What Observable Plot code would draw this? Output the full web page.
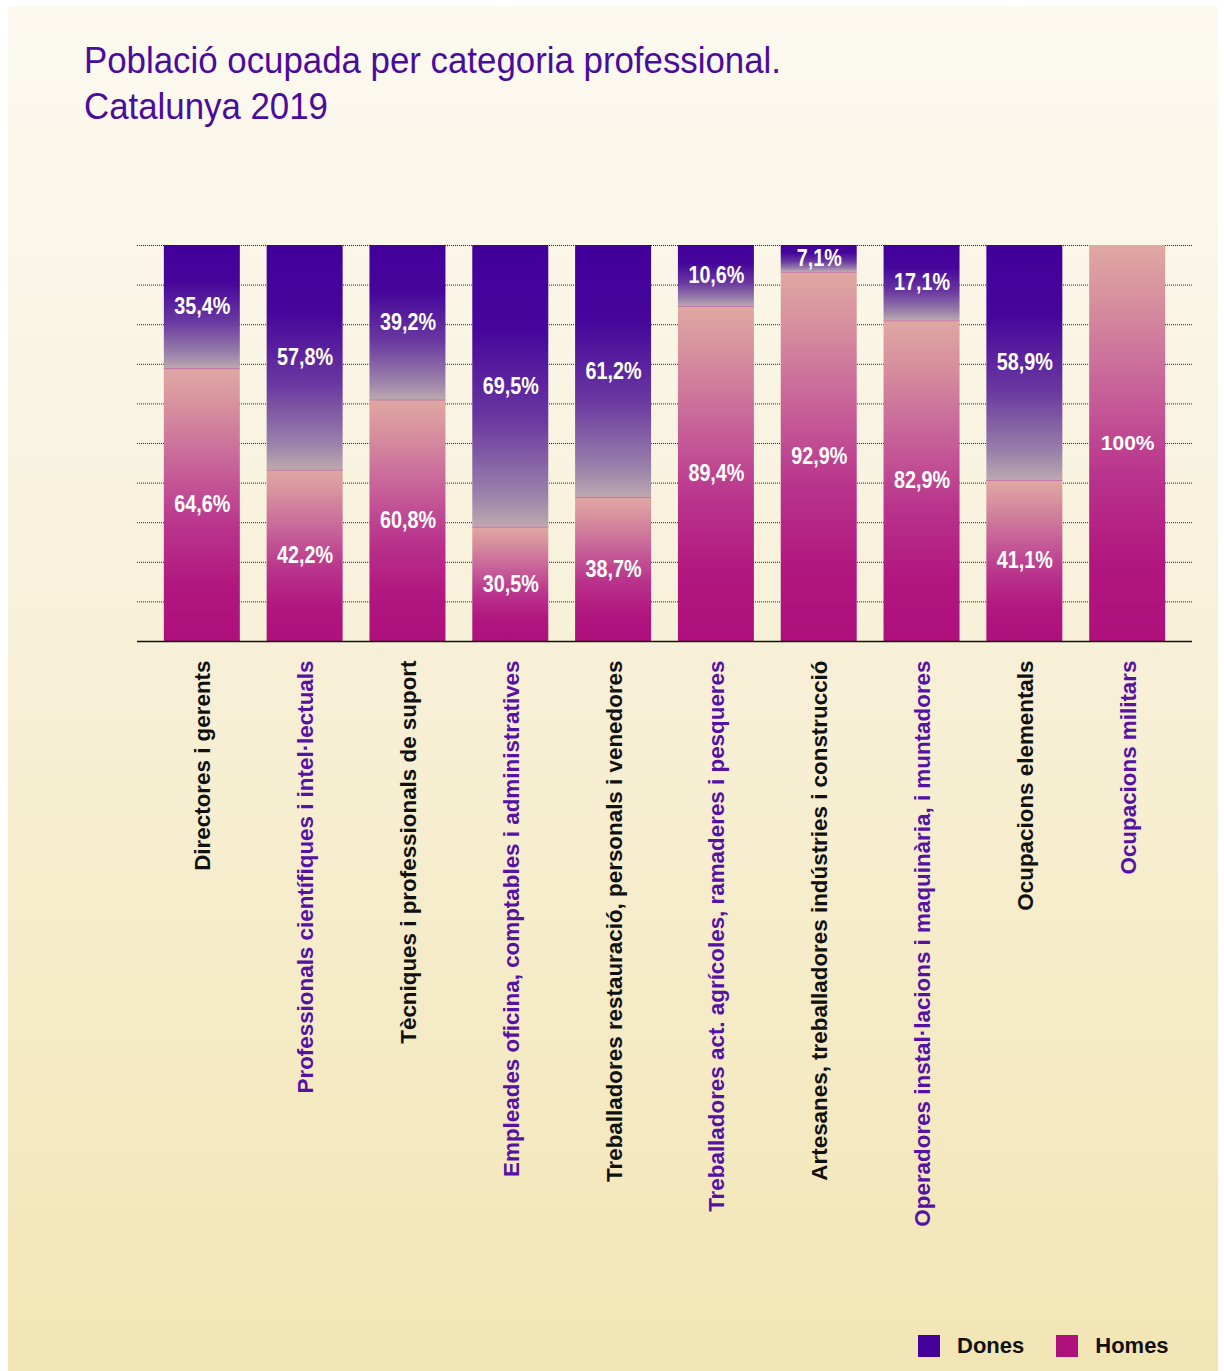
<!DOCTYPE html>
<html>
<head>
<meta charset="utf-8">
<script src="https://cdn.jsdelivr.net/npm/d3@7"></script>
<script src="https://cdn.jsdelivr.net/npm/@observablehq/plot@0.6"></script>
<style>
  html, body { margin: 0; padding: 0; background: #ffffff; }
  body { width: 1224px; height: 1371px; position: relative; overflow: hidden; }
  #panel { position: absolute; left: 8px; top: 6px; width: 1210px; height: 1365px;
    background: linear-gradient(to bottom, #fcf9f0 0%, #f8f2dd 40%, #f2e5b4 100%); }
  #title { position: absolute; left: 84px; top: 38px; margin: 0;
    font-family: "Liberation Sans", Arial, Helvetica, sans-serif;
    font-weight: normal; font-size: 36px; line-height: 46px; color: #4a0c9c; }
  #title span { display: block; white-space: nowrap; transform-origin: 0 50%; width: max-content; }
  #chart { position: absolute; left: 0; top: 200px; }
  #chart svg { background: transparent; overflow: visible; }
  #legend { position: absolute; top: 1333px; left: 918px; display: flex; align-items: center;
    font-family: "Liberation Sans", Arial, Helvetica, sans-serif; font-weight: bold; font-size: 22px; color: #111; }
  #legend .sw { width: 22px; height: 22px; display: inline-block; }
  #legend .lab { margin-left: 17px; margin-right: 32px; }
</style>
</head>
<body>
<div id="panel"></div>
<h1 id="title"><span id="t1">Població ocupada per categoria professional.</span><span id="t2">Catalunya 2019</span></h1>
<div id="chart"></div>
<div id="legend">
  <span class="sw" style="background:#43009a"></span><span class="lab">Dones</span>
  <span class="sw" style="background:#b0107c"></span><span class="lab">Homes</span>
</div>
<script>
const categories = [
  "Directores i gerents",
  "Professionals científiques i intel·lectuals",
  "Tècniques i professionals de suport",
  "Empleades oficina, comptables i administratives",
  "Treballadores restauració, personals i venedores",
  "Treballadores act. agrícoles, ramaderes i pesqueres",
  "Artesanes, treballadores indústries i construcció",
  "Operadores instal·lacions i maquinària, i muntadores",
  "Ocupacions elementals",
  "Ocupacions militars"
];
// percentages printed on the bars
const donesPct = [35.4, 57.8, 39.2, 69.5, 61.2, 10.6, 7.1, 17.1, 58.9, 0];
const homesPct = [64.6, 42.2, 60.8, 30.5, 38.7, 89.4, 92.9, 82.9, 41.1, 100];
// height of the Homes segment as drawn in the picture (% of the bar)
const homesBarHeight = [68.9, 43.3, 61.0, 28.9, 36.4, 84.6, 93.3, 81.0, 40.7, 100];
const gridTicks = [10, 20, 30, 40, 50, 60, 70, 80, 90, 100];

const fmt = v => (Number.isInteger(v) ? String(v) : v.toFixed(1).replace(".", ",")) + "%";

const rows = categories.map((c, i) => ({cat: c, i, dones: donesPct[i], homes: homesPct[i], h: homesBarHeight[i]}));
const donesRows = rows.filter(d => d.dones > 0);
const labels = [];
rows.forEach(d => {
  if (d.dones > 0) labels.push({cat: d.cat, y: (d.h + 100) / 2, t: fmt(d.dones), narrow: true});
  labels.push({cat: d.cat, y: d.h / 2, t: fmt(d.homes), narrow: d.homes !== 100});
});

const defs = () => {
  const s = d3.create("svg:defs");
  const g1 = s.append("linearGradient").attr("id", "gDones").attr("x1", 0).attr("y1", 0).attr("x2", 0).attr("y2", 1);
  [[0, "#42009a"], [0.3, "#46069b"], [0.62, "#6a38a0"], [0.88, "#9a80aa"], [1, "#bca8b0"]]
    .forEach(([o, c]) => g1.append("stop").attr("offset", o).attr("stop-color", c));
  const g2 = s.append("linearGradient").attr("id", "gHomes").attr("x1", 0).attr("y1", 0).attr("x2", 0).attr("y2", 1);
  [[0, "#e0a8a2"], [0.15, "#d68e9e"], [0.35, "#c8649a"], [0.58, "#b9348c"], [0.8, "#b11780"], [1, "#ae0f7c"]]
    .forEach(([o, c]) => g2.append("stop").attr("offset", o).attr("stop-color", c));
  return s.node();
};

const chart = Plot.plot({
  width: 1224,
  height: 1100,
  marginLeft: 137,
  marginRight: 32,
  marginTop: 45,
  marginBottom: 659,
  style: {background: "transparent", overflow: "visible"},
  x: {domain: categories, padding: 0.261, round: false, axis: null},
  y: {domain: [0, 100], axis: null},
  marks: [
    defs,
    Plot.ruleY(gridTicks, {stroke: "#222", strokeWidth: 1, strokeDasharray: "1,1"}),
    Plot.barY(rows, {x: "cat", y1: 0, y2: "h", fill: "url(#gHomes)"}),
    Plot.barY(donesRows, {x: "cat", y1: "h", y2: 100, fill: "url(#gDones)"}),
    Plot.tickY(donesRows, {x: "cat", y: "h", stroke: "#c27aa8", strokeWidth: 1.2}),
    Plot.ruleY([0], {stroke: "#111", strokeWidth: 1.5}),
    Plot.text(labels.filter(d => d.narrow), {x: "cat", y: "y", text: "t", fill: "white",
      fontFamily: "Liberation Sans, Arial, sans-serif", fontWeight: "bold", fontSize: 23}),
    Plot.text(labels.filter(d => !d.narrow), {x: "cat", y: "y", text: "t", fill: "white",
      fontFamily: "Liberation Sans, Arial, sans-serif", fontWeight: "bold", fontSize: 21}),
    Plot.text(rows, {x: "cat", frameAnchor: "bottom", dy: 19, dx: 8, text: "cat", rotate: -90, textAnchor: "end",
      fill: d => d.i % 2 === 0 ? "#111111" : "#5512a4",
      fontFamily: "Liberation Sans, Arial, Helvetica, sans-serif", fontWeight: "bold", fontSize: 22.4})
  ]
});
document.getElementById("chart").appendChild(chart);

// condense the value labels (reference uses a condensed bold face)
const textGroups = d3.select(chart).selectAll('g[aria-label="text"]').nodes();
if (textGroups.length) {
  d3.select(textGroups[0]).selectAll("text").each(function () {
    const el = d3.select(this);
    const tr = el.attr("transform");
    if (tr) {
      el.attr("transform", tr + " scale(0.86,1)");
    } else {
      const x = +el.attr("x") || 0, y = +el.attr("y") || 0;
      el.attr("x", null).attr("y", null).attr("transform", `translate(${x},${y}) scale(0.86,1)`);
    }
  });
}

// condense the title to the reference width
const t1 = document.getElementById("t1"), t2 = document.getElementById("t2");
const w1 = t1.getBoundingClientRect().width;
const k = 697 / w1;
t1.style.transform = `scaleX(${k})`;
t2.style.transform = `scaleX(${k})`;
</script>
</body>
</html>
